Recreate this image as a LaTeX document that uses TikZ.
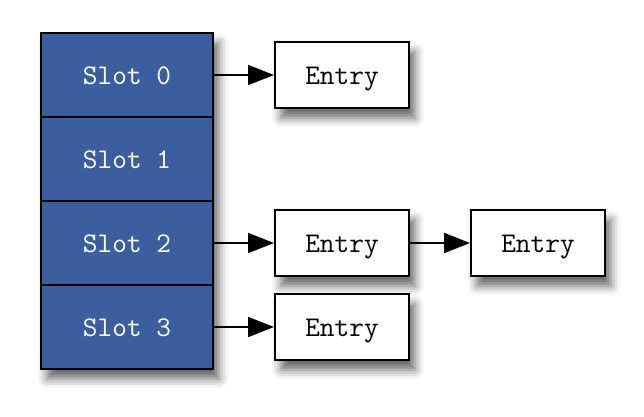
\documentclass[tikz,border=0pt]{standalone}
\usetikzlibrary{arrows.meta,shadows.blur}
\definecolor{slotblue}{HTML}{3A5E9E}
\tikzset{
  x=1pt,y=-1pt,
  dropshade/.style={blur shadow={shadow xshift=6pt,shadow yshift=-10pt,shadow blur radius=9pt,shadow opacity=60}},
  labelfont/.style={font=\ttfamily\fontsize{28.5}{32}\selectfont,text height=19pt,text depth=0pt},
  slotbox/.style={draw=black,line width=2pt,fill=slotblue,minimum width=172pt,minimum height=84pt,inner sep=0pt,labelfont,text=white},
  entrybox/.style={draw=black,line width=2pt,fill=white,minimum width=134pt,minimum height=66pt,inner sep=0pt,labelfont,dropshade},
  link/.style={draw=black,line width=2pt,-{Triangle[length=26pt,width=20pt,fill=black]}}
}
\begin{document}
\begin{tikzpicture}
\useasboundingbox (0,0) rectangle (644,416);
\fill[black,dropshade] (41,33) rectangle (213,369);
\node[slotbox] (s0) at (127,75) {Slot 0};
\node[slotbox] (s1) at (127,159) {Slot 1};
\node[slotbox] (s2) at (127,243) {Slot 2};
\node[slotbox] (s3) at (127,327) {Slot 3};
\node[entrybox] (e0) at (342,75) {Entry};
\node[entrybox] (e2) at (342,243) {Entry};
\node[entrybox] (e2b) at (538,243) {Entry};
\node[entrybox] (e3) at (342,327) {Entry};
\draw[link] (s0) -- (e0);
\draw[link] (s2) -- (e2);
\draw[link] (e2) -- (e2b);
\draw[link] (s3) -- (e3);
\end{tikzpicture}
\end{document}
